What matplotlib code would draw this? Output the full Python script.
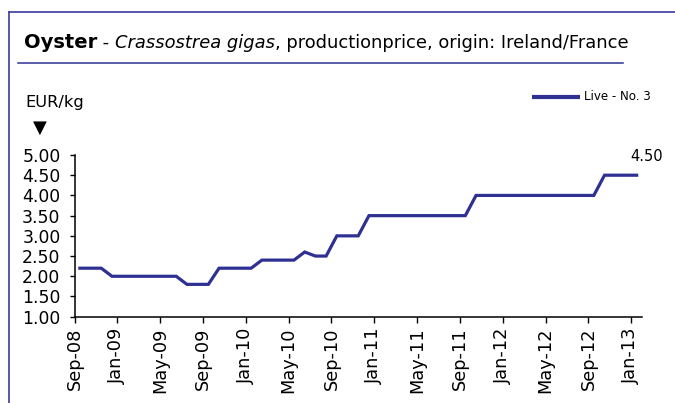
import matplotlib
matplotlib.use('Agg')
import matplotlib.pyplot as plt
from matplotlib.lines import Line2D
import numpy as np

# ---- data ----
tick_labels = ['Sep-08', 'Jan-09', 'May-09', 'Sep-09', 'Jan-10', 'May-10', 'Sep-10',
               'Jan-11', 'May-11', 'Sep-11', 'Jan-12', 'May-12', 'Sep-12', 'Jan-13']
# monthly production price, Sep-08 .. Jan-13 (EUR/kg)
prices = [2.20, 2.20, 2.20,
          2.00, 2.00, 2.00, 2.00, 2.00, 2.00, 2.00,
          1.80, 1.80, 1.80,
          2.20, 2.20, 2.20, 2.20,
          2.40, 2.40, 2.40, 2.40,
          2.60,
          2.50, 2.50,
          3.00, 3.00, 3.00,
          3.50, 3.50, 3.50, 3.50, 3.50, 3.50, 3.50, 3.50, 3.50, 3.50,
          4.00, 4.00, 4.00, 4.00, 4.00, 4.00, 4.00, 4.00, 4.00, 4.00, 4.00, 4.00,
          4.50, 4.50, 4.50, 4.50]
series_name = 'Live - No. 3'
y_ticks = [1.0, 1.5, 2.0, 2.5, 3.0, 3.5, 4.0, 4.5, 5.0]

BLUE = '#2e3192'
FRAME = '#3a3aa0'
FONT = 'DejaVu Sans'
plt.rcParams['font.family'] = [FONT]

W, H = 675, 403
fig = plt.figure(figsize=(W / 100, H / 100), dpi=100)
fig.patch.set_facecolor('white')


def fx(px):
    return px / W


def fy(py):
    return 1 - py / H


# frame lines
fig.add_artist(Line2D([fx(9), fx(9)], [fy(12), fy(403)], color=FRAME, lw=1.2,
                      transform=fig.transFigure))
fig.add_artist(Line2D([fx(9), fx(675)], [fy(12), fy(12)], color=FRAME, lw=1.2,
                      transform=fig.transFigure))
# title underline
fig.add_artist(Line2D([fx(18), fx(623)], [fy(63), fy(63)], color=BLUE, lw=1.1,
                      transform=fig.transFigure))

# title (mixed styles placed one after another)
renderer = fig.canvas.get_renderer()
parts = [("Oyster", dict(fontweight='bold', fontsize=14)),
         (" - ", dict(fontsize=12.9)),
         ("Crassostrea gigas", dict(fontstyle='italic', fontsize=12.9)),
         (", productionprice, origin: Ireland/France", dict(fontsize=12.9))]
xcur = 24
for txt, kw in parts:
    t = fig.text(fx(xcur), fy(48), txt, va='baseline', ha='left', color='black', **kw)
    bb = t.get_window_extent(renderer)
    xcur = bb.x1

fig.text(fx(25), fy(107), 'EUR/kg', fontsize=11.7, va='baseline', ha='left')
fig.text(fx(40), fy(128), '\u25BC', fontsize=13, va='center', ha='center')

# legend
fig.add_artist(Line2D([fx(532), fx(580)], [fy(97), fy(97)], color=BLUE, lw=3,
                      transform=fig.transFigure, solid_capstyle='butt'))
fig.text(fx(584), fy(97), series_name, fontsize=8.6, va='center', ha='left')

# axes
ax = fig.add_axes([fx(74.5), fy(316.7), fx(642) - fx(74.5), fy(155) - fy(316.7)])
x = np.arange(len(prices)) + 0.5
ax.plot(x, prices, color=BLUE, lw=2.3, solid_joinstyle='miter')
ax.set_xlim(0, len(prices))
ax.set_ylim(y_ticks[0], y_ticks[-1])
ax.set_xticks(np.arange(0, len(prices), 4))
ax.set_xticklabels(tick_labels, rotation=90, fontsize=12.8)
ax.set_yticks(y_ticks)
ax.set_yticklabels([f'{v:.2f}' for v in y_ticks], fontsize=12.4)
ax.tick_params(axis='y', direction='out', length=3.6, width=1, pad=6.5)
ax.tick_params(axis='x', direction='out', length=4.3, width=1, pad=3.5)
for s in ['top', 'right']:
    ax.spines[s].set_visible(False)
for s in ['left', 'bottom']:
    ax.spines[s].set_linewidth(1.1)
    ax.spines[s].set_color('black')
ax.patch.set_alpha(0)

ax.annotate(f'{prices[-1]:.2f}', xy=(x[-1], prices[-1]), xytext=(7.5, 13.5),
            textcoords='offset points', ha='center', va='center', fontsize=10.5)

fig.savefig('out.png', dpi=100)
